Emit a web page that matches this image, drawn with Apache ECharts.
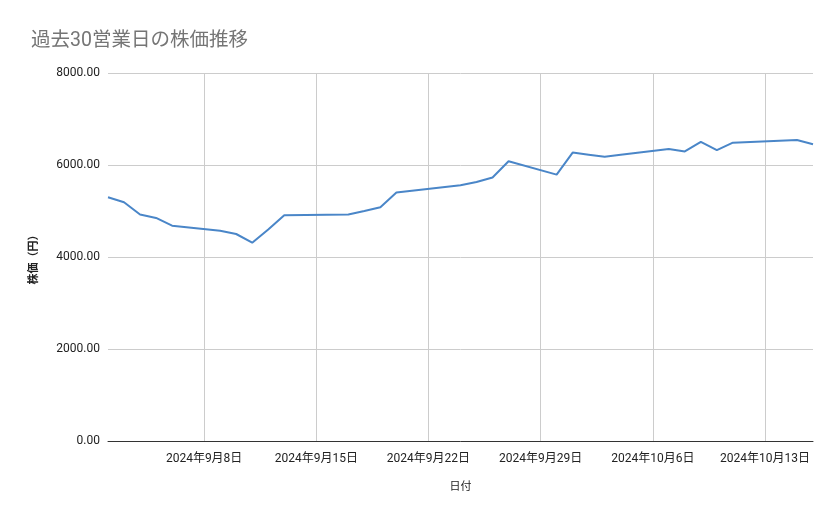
<!DOCTYPE html>
<html>
<head>
<meta charset="utf-8">
<script src="https://cdn.jsdelivr.net/npm/echarts@6/dist/echarts.min.js"></script>
<style>
html,body{margin:0;padding:0;background:#fff;}
#chart{width:839px;height:519px;}
</style>
</head>
<body>
<div id="chart"></div>
<script>
var dates = ['2024-09-02','2024-09-03','2024-09-04','2024-09-05','2024-09-06',
  '2024-09-09','2024-09-10','2024-09-11','2024-09-12','2024-09-13',
  '2024-09-17','2024-09-18','2024-09-19','2024-09-20',
  '2024-09-24','2024-09-25','2024-09-26','2024-09-27',
  '2024-09-30','2024-10-01','2024-10-02','2024-10-03','2024-10-04',
  '2024-10-07','2024-10-08','2024-10-09','2024-10-10','2024-10-11',
  '2024-10-15','2024-10-16'];
var prices = [5300,5190,4925,4850,4680,
  4570,4500,4310,4600,4910,
  4925,5000,5080,5400,
  5560,5630,5730,6080,
  5790,6270,6225,6180,6225,
  6350,6295,6505,6325,6485,
  6545,6450];
var xTicks = ['2024-09-08','2024-09-15','2024-09-22','2024-09-29','2024-10-06','2024-10-13'];
var yTicks = [0,2000,4000,6000,8000];

function ts(s){ var p = s.split('-'); return Date.UTC(+p[0], +p[1]-1, +p[2]); }
var tickTs = xTicks.map(ts);
var seriesData = dates.map(function(d,i){ return [ts(d), prices[i]]; });

var chart = echarts.init(document.getElementById('chart'));
var fontFam = 'Roboto, "Noto Sans CJK JP", sans-serif';
chart.setOption({
  animation: false,
  title: {
    text: '過去30営業日の株価推移',
    left: 26, top: 26,
    textStyle: {color: '#757575', fontSize: 19.5, fontWeight: 'normal', fontFamily: fontFam}
  },
  grid: {left: 108, right: 26, top: 73, bottom: 78},
  xAxis: {
    type: 'value',
    min: ts(dates[0]),
    max: ts(dates[dates.length-1]),
    name: '日付',
    nameLocation: 'middle',
    nameGap: 41,
    nameTextStyle: {color: '#222', fontSize: 11, fontFamily: fontFam},
    axisLine: {show: true, lineStyle: {color: '#333', width: 1}},
    axisTick: {show: false, customValues: tickTs},
    axisLabel: {
      customValues: tickTs,
      color: '#222', fontSize: 12, margin: 12, fontFamily: fontFam,
      formatter: function(v){ var d = new Date(v); return d.getUTCFullYear()+'年'+(d.getUTCMonth()+1)+'月'+d.getUTCDate()+'日'; }
    },
    splitLine: {show: true, lineStyle: {color: '#cccccc', width: 1}}
  },
  yAxis: {
    type: 'value',
    min: yTicks[0], max: yTicks[yTicks.length-1], interval: 2000,
    name: '株価（円）',
    nameLocation: 'middle',
    nameGap: 68,
    nameRotate: 90,
    nameTextStyle: {color: '#222', fontSize: 11, fontWeight: 'bold', fontFamily: fontFam},
    axisLine: {show: false},
    axisTick: {show: false},
    axisLabel: {color: '#222', fontSize: 12, margin: 8, fontFamily: fontFam,
      formatter: function(v){ return v.toFixed(2); }},
    splitLine: {show: true, lineStyle: {color: '#cccccc', width: 1}}
  },
  series: [{
    type: 'line',
    data: seriesData,
    showSymbol: false,
    symbol: 'none',
    lineStyle: {color: '#4a86c8', width: 2},
    itemStyle: {color: '#4a86c8'}
  }]
});
</script>
</body>
</html>
